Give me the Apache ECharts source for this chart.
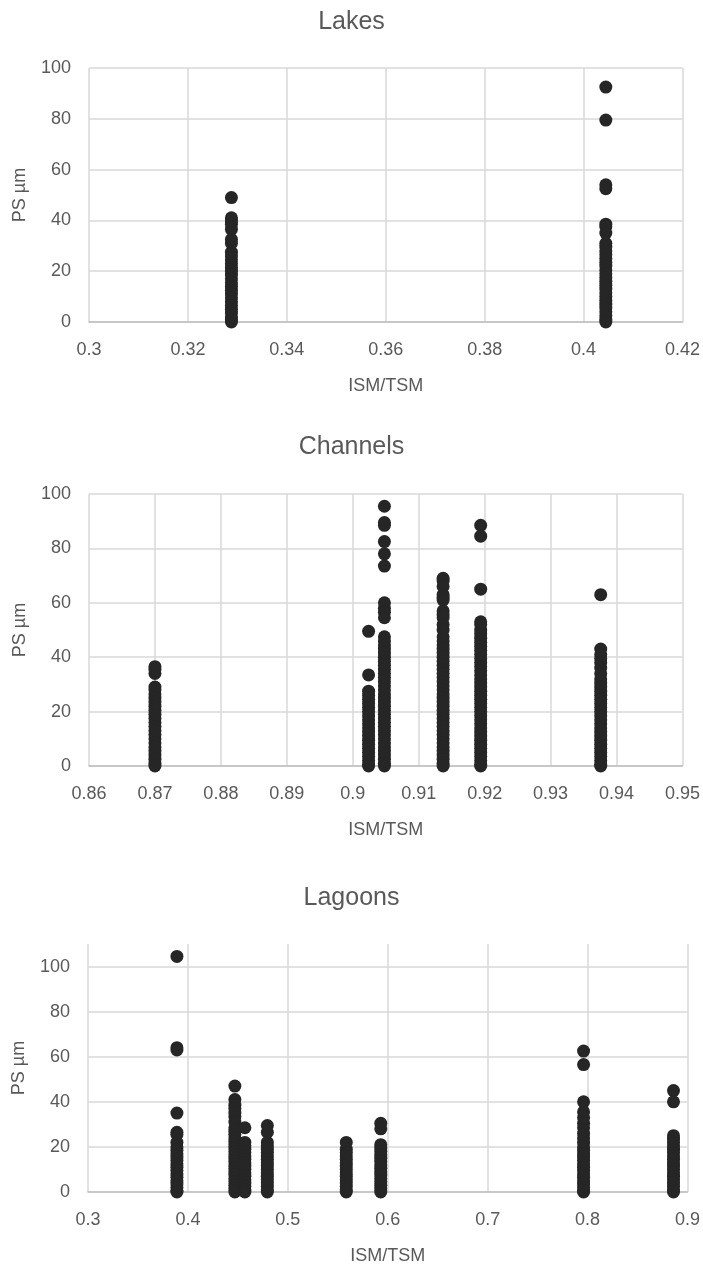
<!DOCTYPE html>
<html>
<head>
<meta charset="utf-8">
<title>PS vs ISM/TSM</title>
<script src="https://cdn.jsdelivr.net/npm/echarts@6/dist/echarts.min.js"></script>
<style>
  html, body { margin: 0; padding: 0; background: #ffffff; }
  #chart { width: 703px; height: 1266px; }
</style>
</head>
<body>
<div id="chart"></div>
<script>
// ---- Lakes: ISM/TSM ratio per station and particle sizes (µm) measured there ----
const lakesX = [0.3288, 0.4045];
const lakesPS = [
  [49, 41, 40, 38.5, 36.5, 32.5, 31, 27.5, 26, 24.5, 23, 21.5, 20, 18.5, 17, 15.5, 14, 12.5, 11, 9.5, 8, 6.5, 5, 3.5, 2, 1, 0],
  [92.5, 79.5, 54, 52.5, 38.5, 37.5, 35, 31, 29.5, 28, 26.5, 25, 23.5, 22, 20.5, 19, 17.5, 16, 14.5, 13, 11.5, 10, 8.5, 7, 5.5, 4, 2.5, 1, 0]
];

// ---- Channels ----
const channelsX = [0.87, 0.9024, 0.9048, 0.9137, 0.9194, 0.9376];
const channelsPS = [
  [36.5, 35.5, 34, 29, 28, 26.5, 25, 23.5, 22, 20.5, 19, 17.5, 16, 14.5, 13, 11.5, 10, 8.5, 7, 5.5, 4, 2.5, 1, 0],
  [49.5, 33.5, 27.5, 26, 24.5, 23, 21.5, 20, 18.5, 17, 15.5, 14, 12.5, 11, 9.5, 8, 6.5, 5, 3.5, 2, 0.5, 0],
  [95.5, 89.5, 88.5, 82.5, 78, 73.5, 60, 58, 56.5, 54.5, 47.5, 46, 44.5, 43, 41.5, 40, 38.5, 37, 35.5, 34, 32.5, 31, 29.5, 28, 26.5, 25, 23.5, 22, 20.5, 19, 17.5, 16, 14.5, 13, 11.5, 10, 8.5, 7, 5.5, 4, 2.5, 1, 0],
  [69, 68, 66, 63, 62, 61, 57, 55.5, 54.5, 52, 50, 47.5, 46, 44.5, 43, 41.5, 40, 38.5, 37, 35.5, 34, 32.5, 31, 29.5, 28, 26.5, 25, 23.5, 22, 20.5, 19, 17.5, 16, 14.5, 13, 11.5, 10, 8.5, 7, 5.5, 4, 2.5, 1, 0],
  [88.5, 84.5, 65, 53, 52, 50, 48.5, 47, 45.5, 44, 42.5, 41, 39.5, 38, 36.5, 35, 33.5, 32, 30.5, 29, 27.5, 26, 24.5, 23, 21.5, 20, 18.5, 17, 15.5, 14, 12.5, 11, 9.5, 8, 6.5, 5, 3.5, 2, 0.5, 0],
  [63, 43, 41, 39.5, 38, 36, 34, 32, 30.5, 29, 27.5, 26, 24.5, 23, 21.5, 20, 18.5, 17, 15.5, 14, 12.5, 11, 9.5, 8, 6.5, 5, 3.5, 2, 0.5, 0]
];

// ---- Lagoons ----
const lagoonsX = [0.389, 0.447, 0.457, 0.4795, 0.5585, 0.593, 0.796, 0.886];
const lagoonsPS = [
  [104.5, 64, 63, 35, 26.5, 25.5, 22, 20, 18.5, 17, 15.5, 14, 12.5, 11, 9.5, 8, 6.5, 5, 3.5, 2, 0.5, 0],
  [47, 41, 38.5, 37, 35, 33.5, 31, 28.5, 27, 25.5, 24, 22.5, 21, 19.5, 18, 16.5, 15, 13.5, 12, 10.5, 9, 7.5, 6, 4.5, 3, 1.5, 0],
  [28.5, 22, 20.5, 19, 17.5, 16, 14.5, 13, 11.5, 10, 8.5, 7, 5.5, 4, 2.5, 1, 0],
  [29.5, 26.5, 22, 20.5, 19, 17.5, 16, 14.5, 13, 11.5, 10, 8.5, 7, 5.5, 4, 2.5, 1, 0],
  [22, 19, 17.5, 16, 14.5, 13, 11.5, 10, 8.5, 7, 5.5, 4, 2.5, 1, 0],
  [30.5, 28, 21, 19.5, 18, 16.5, 15, 13.5, 12, 10.5, 9, 7.5, 6, 4.5, 3, 1.5, 0],
  [62.5, 56.5, 40, 35.5, 33, 30.5, 28.5, 26, 24, 22, 20, 18.5, 17, 15.5, 14, 12.5, 11, 9.5, 8, 6.5, 5, 3.5, 2, 0.5, 0],
  [45, 40, 25, 23.5, 22, 20.5, 19, 17.5, 16, 14.5, 13, 11.5, 10, 8.5, 7, 5.5, 4, 2.5, 1, 0]
];

// Axis ranges and tick steps
const panelTitles = ['Lakes', 'Channels', 'Lagoons'];
const xRanges = [[0.3, 0.42, 0.02], [0.86, 0.95, 0.01], [0.3, 0.9, 0.1]];
const yRanges = [[0, 100, 20], [0, 100, 20], [0, 110, 20]];
const xAxisName = 'ISM/TSM';
const yAxisName = 'PS µm';

// Pair each station's ratio with every size measured there
function toPoints(xs, lists) {
  const pts = [];
  xs.forEach((x, i) => lists[i].forEach(v => pts.push([x, v])));
  return pts;
}
const panelPoints = [
  toPoints(lakesX, lakesPS),
  toPoints(channelsX, channelsPS),
  toPoints(lagoonsX, lagoonsPS)
];

const FONT = 'Liberation Sans, Arial, sans-serif';
const TEXT = '#595959';
const GRID_LINE = '#d9d9d9';
const AXIS_LINE = '#bfbfbf';
const DOT = '#262626';

const grids = [
  { left: 89, top: 68, width: 594, height: 254 },
  { left: 89, top: 494, width: 595, height: 272 },
  { left: 88, top: 944, width: 600, height: 249 }
];
const titleTops = [10, 435, 886];

const option = {
  backgroundColor: '#ffffff',
  animation: false,
  textStyle: { fontFamily: FONT },
  title: panelTitles.map((t, i) => ({
    text: t,
    left: 'center',
    top: titleTops[i],
    padding: 0,
    textStyle: { fontFamily: FONT, fontSize: 25, fontWeight: 'normal', color: TEXT }
  })),
  grid: grids.map(g => Object.assign({ containLabel: false }, g)),
  xAxis: xRanges.map((r, i) => ({
    type: 'value',
    gridIndex: i,
    min: r[0],
    max: r[1],
    interval: r[2],
    name: xAxisName,
    nameLocation: 'middle',
    nameGap: 55,
    nameTextStyle: { fontFamily: FONT, fontSize: 18, color: TEXT },
    axisLine: { show: true, onZero: false, lineStyle: { color: AXIS_LINE, width: 1.5 } },
    axisTick: { show: false },
    axisLabel: { fontFamily: FONT, fontSize: 18, color: TEXT, margin: 19 },
    splitLine: { show: true, lineStyle: { color: GRID_LINE, width: 1.5 } }
  })),
  yAxis: yRanges.map((r, i) => {
    const nTicks = Math.floor((r[1] - r[0]) / r[2]) + 1;
    const hasExtraTop = (r[1] - r[0]) % r[2] !== 0;
    // the top edge at a non-step maximum carries no gridline
    const colors = [];
    for (let k = 0; k < nTicks; k++) colors.push(GRID_LINE);
    if (hasExtraTop) colors.push('rgba(0,0,0,0)');
    return {
      type: 'value',
      gridIndex: i,
      min: r[0],
      max: r[1],
      interval: r[2],
      name: yAxisName,
      nameLocation: 'middle',
      nameGap: 60,
      nameTextStyle: { fontFamily: FONT, fontSize: 18, color: TEXT },
      axisLine: { show: false },
      axisTick: { show: false },
      axisLabel: {
        fontFamily: FONT, fontSize: 18, color: TEXT, margin: 18,
        formatter: v => (hasExtraTop && v === r[1]) ? '' : String(v)
      },
      splitLine: { show: true, lineStyle: { color: colors, width: 1.5 } }
    };
  }),
  series: panelPoints.map((pts, i) => ({
    type: 'scatter',
    xAxisIndex: i,
    yAxisIndex: i,
    data: pts,
    symbol: 'circle',
    symbolSize: 13,
    itemStyle: { color: DOT, opacity: 1 },
    emphasis: { disabled: true },
    clip: false
  }))
};

const chart = echarts.init(document.getElementById('chart'), null, { renderer: 'canvas' });
chart.setOption(option);
</script>
</body>
</html>
